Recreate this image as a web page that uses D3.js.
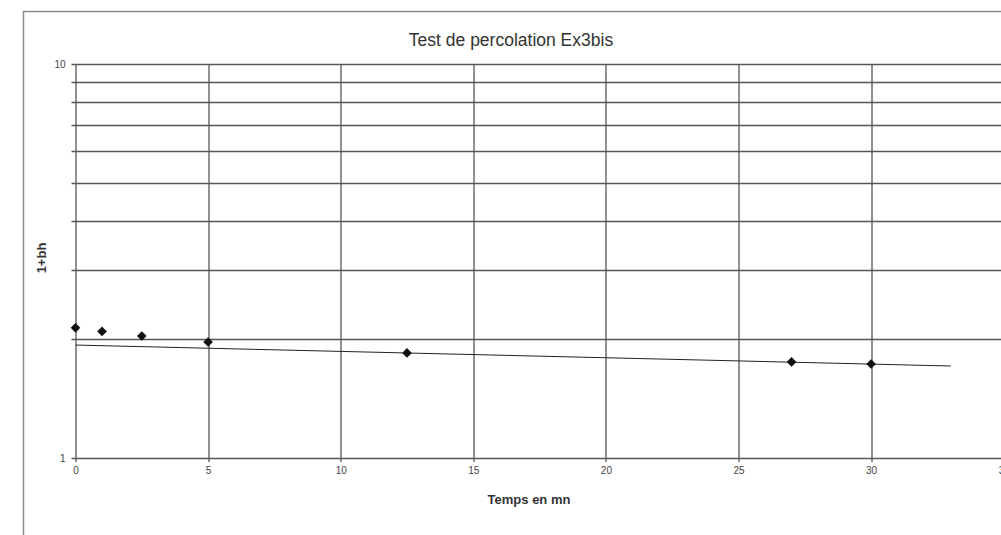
<!DOCTYPE html>
<html lang="fr">
<head>
  <meta charset="UTF-8">
  <title>Test de percolation Ex3bis</title>
  <script src="https://d3js.org/d3.v7.min.js"></script>
  <style>
    body {
      margin: 0;
      background: #fff;
      font-family: "Liberation Sans", Arial, sans-serif;
    }
    svg { display: block; }
    .tick text { font-size: 10px; fill: #444; }
    .axis-label { font-size: 13px; font-weight: bold; fill: #333; }
    .title { font-size: 17.5px; fill: #333; }
  </style>
</head>
<body>
  <div id="chart"></div>

  <script>
    // Data
    const temps = [0, 1, 2.5, 5, 12.5, 27, 30];
    const valeurs = [2.14, 2.095, 2.04, 1.97, 1.848, 1.753, 1.732];

    // exponential trend line end points (straight on the log axis)
    const trendX = [0, 33];
    const trendY = [1.935, 1.712];

    const xTicks = [0, 5, 10, 15, 20, 25, 30, 35];
    const yMajor = [1, 10];
    const yMinor = [2, 3, 4, 5, 6, 7, 8, 9];

    const width = 1001;
    const height = 535;
    const margin = { top: 64, left: 75.5, bottom: 77 };
    const innerWidth = 132.6 * 7;
    const innerHeight = height - margin.top - margin.bottom;

    const root = d3.select('#chart')
      .append('svg')
      .attr('width', width)
      .attr('height', height);

    // chart frame (cropped on the right and bottom)
    root.append('rect')
      .attr('x', 23.5)
      .attr('y', 11.5)
      .attr('width', 1100)
      .attr('height', 600)
      .attr('fill', 'none')
      .attr('stroke', '#8a8a8a')
      .attr('stroke-width', 1.5);

    const svg = root.append('g')
      .attr('transform', `translate(${margin.left}, ${margin.top})`);

    const x = d3.scaleLinear().domain([0, 35]).range([0, innerWidth]);
    const y = d3.scaleLog().domain([1, 10]).range([innerHeight, 0]);

    // horizontal gridlines
    svg.append('g')
      .selectAll('line')
      .data(yMinor.concat(yMajor))
      .join('line')
      .attr('x1', -4)
      .attr('x2', innerWidth)
      .attr('y1', d => Math.round(y(d)) + 0.5)
      .attr('y2', d => Math.round(y(d)) + 0.5)
      .attr('stroke', '#555')
      .attr('stroke-width', 1.3);

    // vertical gridlines
    svg.append('g')
      .selectAll('line')
      .data(xTicks)
      .join('line')
      .attr('x1', d => Math.round(x(d)) + 0.5)
      .attr('x2', d => Math.round(x(d)) + 0.5)
      .attr('y1', 0)
      .attr('y2', innerHeight + 4)
      .attr('stroke', '#555')
      .attr('stroke-width', 1.3);

    // x axis labels
    svg.append('g')
      .attr('transform', `translate(0, ${innerHeight})`)
      .call(d3.axisBottom(x).tickValues(xTicks).tickSize(0).tickPadding(9).tickFormat(d3.format('d')))
      .call(g => g.select('.domain').remove());

    // y axis labels (only 1 and 10)
    svg.append('g')
      .call(d3.axisLeft(y).tickValues(yMajor).tickSize(0).tickPadding(10).tickFormat(d3.format('d')))
      .call(g => g.select('.domain').remove());

    // trend line
    svg.append('path')
      .datum(d3.zip(trendX, trendY))
      .attr('fill', 'none')
      .attr('stroke', '#222')
      .attr('stroke-width', 1)
      .attr('d', d3.line().x(d => x(d[0])).y(d => y(d[1])));

    // data points
    svg.append('g')
      .selectAll('path')
      .data(d3.zip(temps, valeurs))
      .join('path')
      .attr('transform', d => `translate(${x(d[0])}, ${y(d[1])})`)
      .attr('d', d3.symbol(d3.symbolDiamond2, 60))
      .attr('fill', '#111');

    // title
    root.append('text')
      .attr('class', 'title')
      .attr('text-anchor', 'middle')
      .attr('x', 511)
      .attr('y', 46)
      .text('Test de percolation Ex3bis');

    // x-axis label
    root.append('text')
      .attr('class', 'axis-label')
      .attr('text-anchor', 'middle')
      .attr('x', 529)
      .attr('y', 504)
      .text('Temps en mn');

    // y-axis label
    root.append('text')
      .attr('class', 'axis-label')
      .attr('text-anchor', 'middle')
      .attr('transform', 'rotate(-90)')
      .attr('x', -258)
      .attr('y', 46)
      .text('1+bh');
  </script>
</body>
</html>
